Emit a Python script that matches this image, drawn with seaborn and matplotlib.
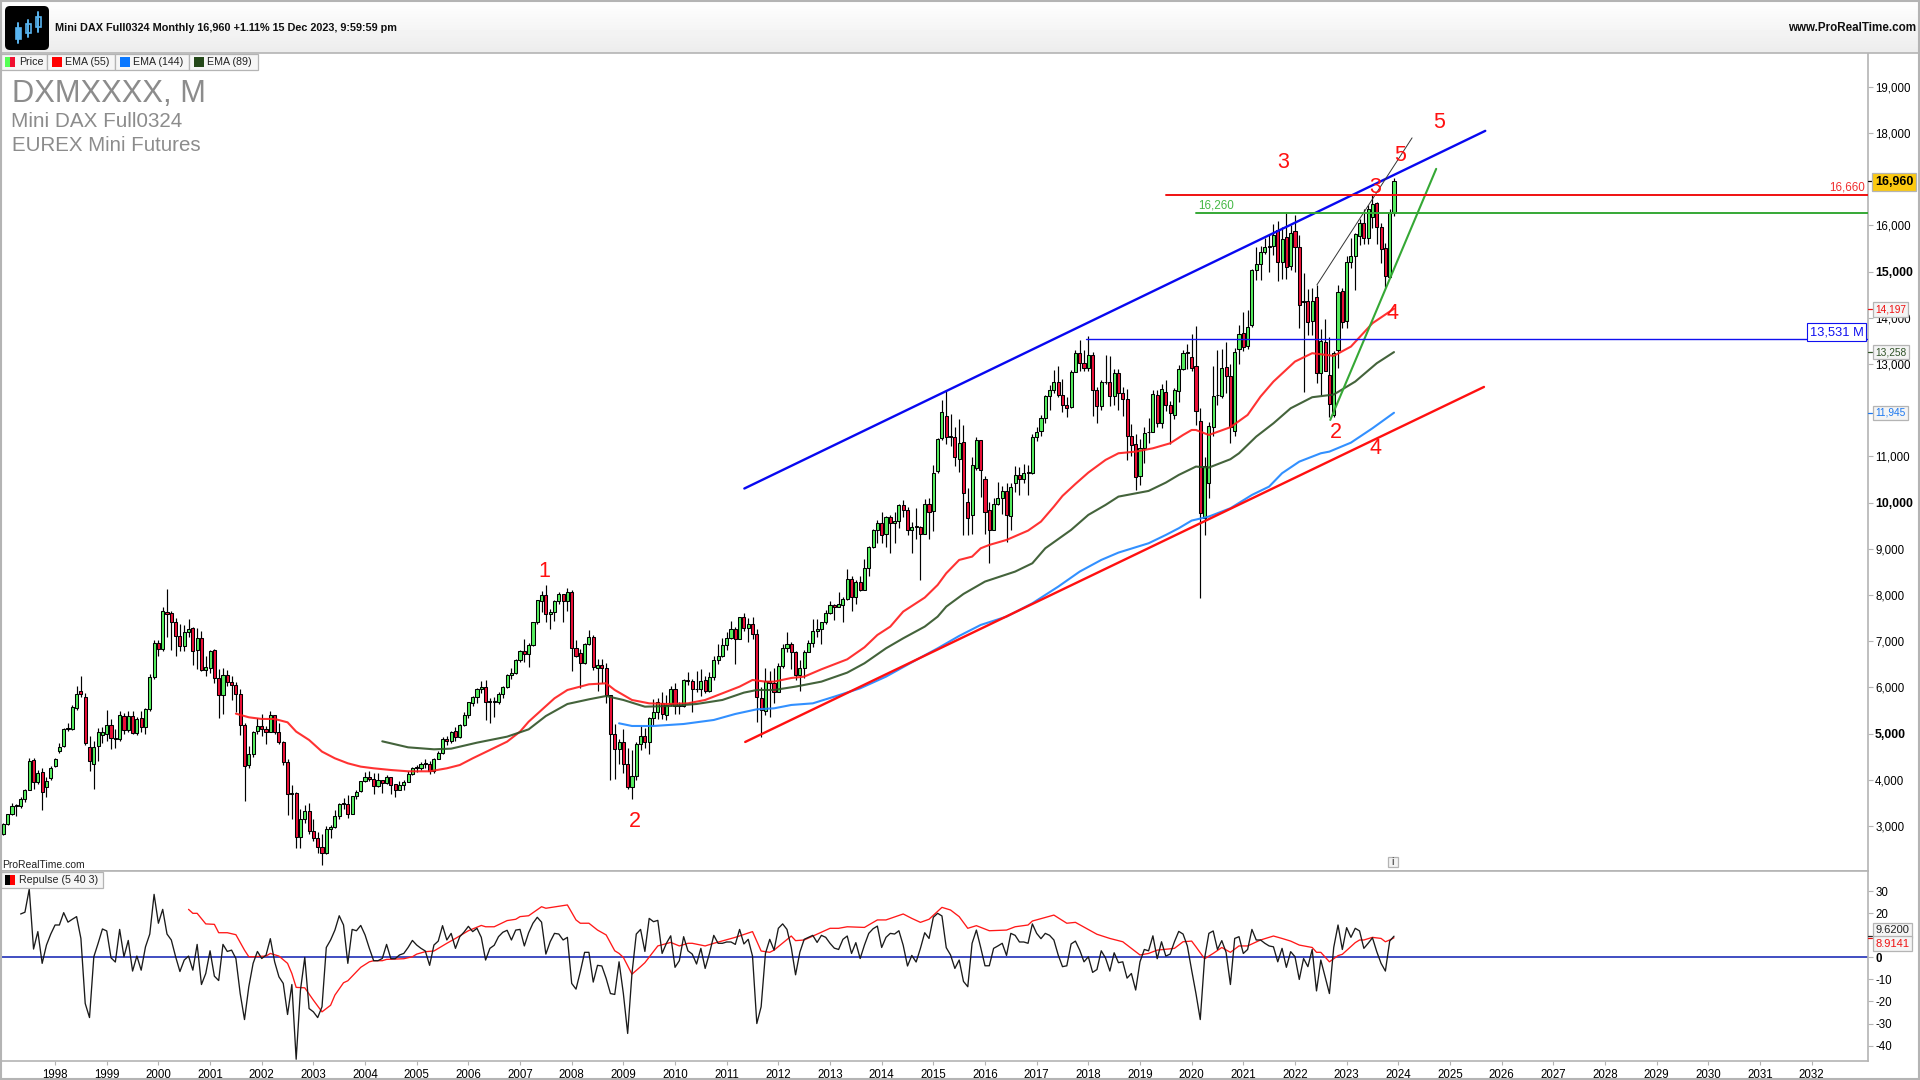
import numpy as np
import pandas as pd
import matplotlib.pyplot as plt
import seaborn as sns
from matplotlib.patches import Rectangle, FancyBboxPatch

# ==========================================
# Monthly candles, Jan 1997 to Dec 2023, one row per year
# ==========================================
opens = [
    2830, 3050, 3250, 3440, 3440, 3590, 3790, 4420, 3950, 4160, 3850, 4030,
    4300, 4620, 4740, 5100, 5110, 5550, 5916, 5793, 4703, 4335, 4739, 4962,
    5000, 5190, 4900, 4880, 5390, 5070, 5380, 5020, 5330, 5150, 5530, 6220,
    6960, 6840, 7640, 7600, 7420, 7110, 6900, 7190, 7280, 6800, 7080, 6370,
    6430, 6800, 6210, 5830, 6260, 6120, 6060, 5860, 5190, 4310, 4560, 5050,
    5160, 5110, 5040, 5400, 5040, 4820, 4380, 3700, 3710, 2770, 3150, 3320,
    2890, 2750, 2550, 2420, 2940, 2980, 3220, 3490, 3480, 3260, 3650, 3750,
    3970, 4060, 4020, 3860, 3990, 3920, 4050, 3900, 3790, 3890, 3960, 4130,
    4260, 4260, 4350, 4350, 4190, 4460, 4590, 4890, 4830, 5050, 4930, 5190,
    5410, 5670, 5800, 5970, 6010, 5690, 5680, 5680, 5860, 6010, 6270, 6310,
    6600, 6790, 6720, 6920, 7410, 7880, 8010, 7590, 7640, 7860, 8020, 7870,
    8070, 6850, 6750, 6530, 6950, 7100, 6420, 6480, 6420, 5830, 4990, 4670,
    4810, 4340, 3840, 4080, 4770, 4940, 4810, 5330, 5460, 5670, 5410, 5630,
    5960, 5610, 5600, 6150, 6140, 5960, 5970, 6150, 5920, 6230, 6600, 6690,
    6920, 7080, 7270, 7040, 7520, 7290, 7380, 7160, 5780, 5500, 6140, 6090,
    5900, 6460, 6860, 6950, 6760, 6260, 6420, 6770, 6970, 7220, 7260, 7410,
    7610, 7780, 7740, 7790, 7910, 8350, 7960, 8280, 8100, 8590, 9030, 9410,
    9550, 9310, 9690, 9560, 9600, 9940, 9830, 9410, 9470, 9470, 9330, 9980,
    9810, 10690, 11400, 11880, 11450, 11410, 10950, 11310, 10007, 9727, 10745, 11350,
    10506, 9830, 9400, 9980, 10100, 10250, 9710, 10420, 10590, 10510, 10660, 10640,
    11430, 11540, 11840, 12310, 12440, 12620, 12330, 12120, 12060, 12830, 13230, 13020,
    12920, 13190, 12440, 12100, 12620, 12610, 12310, 12810, 12370, 12250, 11450, 11260,
    10580, 11180, 11520, 11530, 12340, 11720, 12400, 12114, 11898, 12418, 12887, 13240,
    13160, 12960, 11760, 9670, 10430, 11630, 12320, 12310, 12930, 12750, 11540, 13320,
    13680, 13380, 13850, 15030, 15160, 15420, 15540, 15560, 15890, 15210, 15750, 15130,
    15870, 15540, 14360, 14360, 13930, 14460, 12810, 13470, 12760, 11900, 13310, 14570,
    13930, 15200, 15330, 15780, 16060, 15720, 16190, 16480, 15975, 15520, 14890, 16260,
]
highs = [
    3070, 3270, 3500, 3480, 3620, 3800, 4480, 4470, 4220, 4250, 4060, 4290,
    4480, 4800, 5130, 5220, 5620, 6020, 6250, 5880, 4950, 4830, 5120, 5150,
    5510, 5320, 5110, 5500, 5440, 5480, 5500, 5370, 5480, 5560, 6300, 7020,
    7030, 7740, 8124, 7660, 7500, 7370, 7350, 7490, 7300, 7280, 7220, 6680,
    6820, 6830, 6400, 6420, 6370, 6250, 6110, 5970, 5230, 4730, 5060, 5330,
    5420, 5160, 5480, 5410, 5230, 4840, 4460, 3880, 3730, 3360, 3460, 3490,
    3160, 2870, 2820, 3000, 3030, 3340, 3500, 3600, 3680, 3660, 3790, 3970,
    4160, 4180, 4150, 4150, 4000, 4110, 4060, 3870, 3980, 3990, 4180, 4280,
    4320, 4380, 4440, 4410, 4480, 4620, 4920, 4950, 5060, 5140, 5210, 5470,
    5690, 5810, 5990, 6140, 6160, 5760, 5790, 5890, 6030, 6280, 6420, 6620,
    6820, 7040, 6960, 7410, 7900, 8090, 8217, 7700, 7890, 8060, 8010, 8160,
    8100, 7030, 6830, 6960, 7250, 7130, 6620, 6620, 6520, 5840, 5200, 4890,
    5110, 4680, 4650, 4810, 5170, 5120, 5350, 5750, 5780, 5890, 5840, 6030,
    6090, 5680, 6190, 6340, 6190, 6350, 6390, 6240, 6340, 6670, 6930, 7080,
    7190, 7440, 7310, 7530, 7600, 7500, 7520, 7260, 6000, 6430, 6350, 6430,
    6530, 6950, 7190, 6980, 6780, 6600, 6800, 7030, 7480, 7480, 7420, 7680,
    7870, 7800, 8070, 7950, 8560, 8420, 8330, 8420, 8770, 9060, 9420, 9630,
    9800, 9700, 9740, 9790, 9970, 10050, 9900, 9590, 9890, 9490, 10080, 10090,
    10810, 11400, 12219, 12439, 11920, 11640, 11800, 11670, 10320, 10990, 11430, 11300,
    10570, 10010, 10100, 10440, 10350, 10420, 10420, 10800, 10770, 10830, 10820, 11480,
    11640, 11890, 12320, 12540, 12880, 12950, 12680, 12290, 12880, 13300, 13530, 13300,
    13600, 13270, 12500, 12660, 13200, 13170, 12890, 12890, 12500, 12460, 11700, 11480,
    11370, 11640, 11830, 12440, 12440, 12560, 12660, 12200, 12490, 12970, 13310, 13430,
    13640, 13825, 12040, 10990, 11740, 12950, 13300, 13330, 13470, 13000, 13350, 13850,
    14130, 14170, 15060, 15530, 15560, 15730, 15820, 16030, 16100, 15960, 16300, 16010,
    16228, 15800, 14970, 14620, 14640, 14712, 13760, 13970, 13594, 13290, 14700, 14655,
    15340, 15720, 15830, 16130, 16360, 16440, 16660, 16500, 16050, 15630, 16350, 17030,
]
lows = [
    2810, 3030, 3230, 3220, 3400, 3530, 3770, 3800, 3900, 3340, 3635, 4000,
    4280, 4590, 4720, 5050, 5070, 5520, 5800, 4750, 4200, 3794, 4414, 4800,
    4850, 4670, 4680, 4850, 5000, 5030, 4990, 4980, 5030, 4990, 5480, 6180,
    6670, 6790, 7100, 6800, 6680, 6780, 6780, 7100, 6490, 6390, 6360, 6250,
    6320, 6100, 5346, 5420, 6020, 5720, 5460, 4980, 3549, 4250, 4490, 4990,
    4950, 4780, 5040, 4990, 4780, 4320, 3238, 3160, 2517, 2520, 3060, 2820,
    2670, 2420, 2156, 2400, 2740, 2950, 3160, 3370, 3170, 3250, 3590, 3740,
    3960, 3970, 3690, 3850, 3710, 3900, 3700, 3620, 3800, 3790, 3950, 4110,
    4170, 4220, 4260, 4130, 4140, 4440, 4550, 4750, 4790, 4840, 4900, 5170,
    5330, 5590, 5670, 5870, 5290, 5240, 5360, 5630, 5770, 5990, 6180, 6280,
    6560, 6560, 6440, 6890, 7380, 7630, 7410, 7260, 7430, 7800, 7420, 7650,
    6363, 6660, 5980, 6500, 6920, 6380, 5930, 6090, 5660, 4000, 4010, 4340,
    4150, 3810, 3590, 4000, 4640, 4680, 4550, 5190, 5320, 5320, 5300, 5590,
    5430, 5430, 5580, 6050, 5460, 5900, 5810, 5880, 5900, 6170, 6500, 6650,
    6800, 7040, 6500, 7040, 7220, 6980, 7040, 5260, 4933, 5400, 5370, 5670,
    5900, 6410, 6760, 6400, 6150, 5920, 6200, 6760, 6870, 7100, 6950, 7380,
    7580, 7460, 7770, 7420, 7900, 7650, 7800, 8080, 8100, 8420, 9010, 9130,
    9120, 9040, 8900, 9130, 9440, 9690, 9300, 8900, 9220, 8326, 9310, 9220,
    9380, 10650, 11360, 11270, 11220, 10800, 10670, 9300, 9300, 9330, 10700, 10120,
    9310, 8687, 9400, 9950, 9750, 9156, 9410, 10230, 10170, 10430, 10170, 10620,
    11340, 11440, 11720, 12010, 12380, 12280, 11970, 11860, 12040, 12830, 12840, 12850,
    12850, 11870, 11730, 12010, 12570, 12100, 12110, 12000, 11870, 10930, 11010, 10280,
    10390, 10860, 11300, 11520, 11640, 11620, 11980, 11270, 11810, 12180, 12860, 12890,
    12850, 11682, 7944, 9300, 10100, 11450, 12120, 12260, 12370, 11299, 11450, 13000,
    13290, 13320, 13800, 14820, 14810, 15380, 15000, 15370, 14800, 14840, 14830, 15030,
    15000, 13775, 12403, 13630, 13630, 12584, 12331, 12900, 11862, 11862, 12923, 13770,
    13780, 15070, 14604, 15570, 15600, 15600, 15950, 15600, 15180, 14676, 14860, 16200,
]
closes = [
    3050, 3250, 3430, 3440, 3590, 3780, 4400, 3950, 4155, 3729, 3970, 4255,
    4443, 4710, 5096, 5107, 5568, 5858, 5866, 4804, 4414, 4703, 5028, 5043,
    5184, 4898, 4884, 5393, 5069, 5378, 5020, 5326, 5150, 5525, 6220, 6958,
    6835, 7644, 7599, 7414, 7109, 6898, 7190, 7274, 6798, 7077, 6372, 6434,
    6795, 6208, 5829, 6264, 6123, 6058, 5861, 5188, 4308, 4559, 5045, 5160,
    5107, 5039, 5397, 5041, 4818, 4383, 3700, 3712, 2769, 3152, 3320, 2893,
    2747, 2547, 2424, 2942, 2983, 3221, 3487, 3485, 3257, 3655, 3746, 3965,
    4059, 4018, 3856, 3985, 3921, 4052, 3895, 3785, 3892, 3960, 4126, 4256,
    4254, 4350, 4349, 4185, 4461, 4586, 4887, 4830, 5044, 4929, 5193, 5408,
    5674, 5796, 5970, 6009, 5692, 5683, 5681, 5859, 6004, 6268, 6309, 6596,
    6789, 6715, 6917, 7408, 7883, 8007, 7584, 7638, 7861, 8019, 7870, 8067,
    6851, 6680, 6535, 6948, 7099, 6435, 6479, 6422, 5831, 4988, 4669, 4810,
    4338, 3843, 4085, 4769, 4941, 4808, 5332, 5465, 5675, 5414, 5625, 5957,
    5608, 5598, 6153, 6136, 5964, 5966, 6148, 5925, 6229, 6601, 6688, 6914,
    7077, 7272, 7041, 7514, 7293, 7376, 7158, 5784, 5502, 6141, 6088, 5898,
    6458, 6856, 6946, 6761, 6264, 6416, 6772, 6970, 7216, 7260, 7405, 7612,
    7776, 7742, 7795, 7914, 8348, 7959, 8276, 8103, 8594, 9033, 9405, 9552,
    9306, 9692, 9555, 9603, 9943, 9833, 9407, 9470, 9474, 9326, 9980, 9805,
    10636, 11372, 11956, 11415, 11413, 10996, 11298, 10203, 9662, 10809, 11357, 10707,
    9805, 9409, 9964, 10094, 10253, 9727, 10332, 10592, 10511, 10650, 10640, 11429,
    11535, 11826, 12312, 12438, 12615, 12325, 12118, 12055, 12828, 13229, 13023, 12917,
    13189, 12435, 12096, 12612, 12604, 12306, 12805, 12364, 12247, 11447, 11257, 10558,
    11173, 11515, 11526, 12344, 11726, 12461, 12114, 11934, 12428, 12887, 13240, 13249,
    12908, 11977, 9770, 10801, 11668, 12317, 12320, 12923, 12750, 11646, 13269, 13646,
    13364, 13797, 15037, 15160, 15420, 15542, 15560, 15795, 15204, 15702, 15096, 15832,
    15529, 14273, 14351, 13911, 14373, 12801, 13507, 12844, 12136, 13248, 14567, 13919,
    15218, 15347, 15810, 16062, 15720, 16350, 16470, 15975, 15492, 14908, 16264, 16960,
]

# EMA lines, x in months since Jan 1997
ema55_x = [54, 57, 60, 63, 66, 68, 71, 74, 77, 80, 83, 86, 90, 94, 99, 103, 106, 109, 113, 117,
           120, 122, 125, 128, 131, 136, 140, 142, 146, 150, 154, 159, 163, 167, 171, 174, 177, 179, 183, 186,
           190, 196, 200, 203, 206, 209, 214, 217, 219, 222, 225, 227, 229, 233, 238, 241, 244, 246, 249, 252,
           256, 259, 263, 267, 271, 274, 276, 277, 280, 285, 289, 292, 295, 300, 304, 309, 313, 318, 323]
ema55_y = [5432, 5353, 5317, 5317, 5244, 5043, 4862, 4610, 4465, 4357, 4285, 4249, 4212, 4184, 4184, 4249, 4320, 4465, 4645, 4826,
           5043, 5258, 5511, 5764, 5944, 6067, 6089, 5944, 5728, 5655, 5641, 5655, 5728, 5872, 6017, 6161, 6125, 6125, 6204, 6233,
           6392, 6608, 6868, 7135, 7316, 7641, 7944, 8218, 8471, 8759, 8831, 9011, 9084, 9192, 9394, 9589, 9914, 10145, 10404, 10650,
           10924, 11068, 11104, 11176, 11284, 11464, 11572, 11572, 11464, 11632, 11898, 12295, 12620, 13053, 13234, 13176, 13378, 13883, 14197]
ema89_x = [88, 94, 100, 104, 110, 117, 122, 126, 131, 136, 140, 144, 149, 155, 161, 167, 172, 175, 179, 184,
           190, 196, 200, 205, 209, 214, 217, 219, 223, 228, 235, 239, 242, 248, 252, 256, 259, 266, 270, 273,
           277, 280, 285, 287, 291, 295, 299, 304, 309, 314, 319, 323]
ema89_y = [4833, 4703, 4660, 4674, 4804, 4934, 5092, 5381, 5641, 5742, 5814, 5728, 5583, 5598, 5641, 5728, 5887, 5944, 5944, 6017,
           6125, 6320, 6522, 6846, 7063, 7316, 7532, 7749, 8023, 8291, 8507, 8687, 9011, 9409, 9734, 9950, 10130, 10253, 10433, 10599,
           10780, 10758, 10939, 11068, 11429, 11717, 12042, 12281, 12339, 12620, 13017, 13258]
ema144_x = [143, 146, 151, 158, 165, 170, 175, 179, 183, 188, 193, 199, 205, 212, 217, 222, 227, 233, 239, 245,
            250, 255, 259, 266, 270, 273, 276, 280, 285, 290, 294, 297, 301, 306, 308, 313, 318, 323]
ema144_y = [5223, 5165, 5165, 5208, 5295, 5425, 5526, 5547, 5620, 5655, 5800, 5980, 6233, 6594, 6846, 7114, 7352, 7532, 7821, 8181,
            8507, 8759, 8918, 9120, 9300, 9445, 9611, 9698, 9878, 10166, 10347, 10636, 10887, 11068, 11104, 11298, 11609, 11945]

# Repulse, starts at month 4
repulse = [
    19.7, 20.5, 31, 3.8, 11.7, -2.7, 5.6, 10.6, 14.7, 14.7, 20.3, 16, 17.3, 18.5, 8.6, -20.9, -27.3, 0.3, 6.4, 12.9,
    12, -0.2, -2.1, 12.7, 0.3, 7.7, -6.2, 0.6, -5.8, 4.8, 10.6, 28.6, 15.5, 21.8, 10.6, 7.9, 0.3, -6.4, -1.2, 0.6,
    -5.8, 5.9, -12.3, -7.3, 3, -8.5, -10.5, 5.9, 2.7, 3.3, -0.5, -16.4, -28.2, -13.3, -2.7, 2.7, -0.5, 1, 8.5, -2,
    -8.8, -11.8, -25.9, -12.3, -46.2, -14.8, 0, -23.2, -24.7, -27.3, -22.4, 4.5, 7.9, 12.4, 18.9, 14.7, -2.7, 12.7, 12.1, 14.5,
    10.2, 4.1, -1.5, -1.5, -0.5, 5.9, -0.6, -0.6, 1.1, 1.8, 4.5, 7.7, 5.6, 4.1, 2.9, -3.6, 5.6, 7.4, 14.4, 7.9,
    10.9, 4.1, 9.4, 11.5, 14.1, 11.7, 13.2, 9.1, -1.2, 4.1, 5.5, 9.4, 11.4, 12.3, 7.9, 12.4, 12.7, 5.2, 11.2, 15.5,
    18.2, 16, 1.5, 7.1, 10.9, 10.6, 7.9, 9.1, -11.8, -14.4, -6.5, 2.3, 2.3, -11.2, -3.6, -3.9, -9.5, -16.4, -16.8, -2,
    -16.4, -34.5, -7.3, 10.6, 12.7, 2.7, 17.7, 16.2, 16.8, 1.8, 6.4, 9.8, -4.5, -1.5, 9.4, 3, 1.5, -3, 4.1, -5,
    1.8, 10, 6.4, 6.4, 7, 7, 5.9, 12.7, 6.1, 8.2, 0.6, -30, -22.4, 1.8, 8.2, 3.3, 13.2, 15.2, 12.7, 4.5,
    -7.9, 2.4, 8.2, 9.1, 10, 6.8, 10, 9.1, 6.4, 4.2, 3.6, 8.2, 9.7, 1.8, 6.7, -0.5, 5.6, 10.9, 13, 14.2,
    4.5, 9.1, 10.9, 10.6, 12.1, 5.5, -3.9, 0.9, -2.1, 4.1, 11.2, 8.6, 18.2, 20, 18.8, 4.4, 1.1, -5, -1.2, -10.9,
    -13.3, 6.4, 12.4, 4.5, -3.8, -3.8, 4.1, 5.2, 6.4, 0.9, 10.9, 10, 7, 7, 6.4, 15.2, 10.9, 8.5, 10.9, 10,
    7.9, 1.1, -4.2, -3.8, 6.1, 7.4, 3.3, -2, 0.3, -6.8, -5.5, 3, -0.3, -6.2, 2.1, -2.4, -2, -9.4, -7.3, -14.8,
    -2, 3.6, 3, 9.8, -0.6, 7.1, 0.6, 1.5, 7.1, 11.8, 10.6, 5.2, -5.8, -16.4, -28.2, -0.5, 10.9, 12, 3.6, 7.6,
    2.3, -12.3, 8.6, 9.4, 1.8, 3.6, 12.7, 7.9, 7.9, 6.4, 5.2, 4.8, -2, 4.1, -4.5, 2.6, 0.3, -10, -0.5, -4.2,
    3.6, -15.2, -1.2, -8.8, -16.4, 4.5, 14.7, 3.6, 13.5, 9.1, 13.2, 12, 4.1, 6.4, 8.9, 2.6, -2.7, -6.2, 7.4, 9.62,
]
signal_x = [43, 44, 45, 47, 49, 50, 52, 54, 56, 57, 58, 61, 62, 64, 66, 67, 68, 70, 72, 74,
            76, 77, 79, 80, 83, 85, 86, 88, 89, 93, 95, 96, 98, 100, 103, 105, 108, 111, 112, 114,
            117, 119, 120, 122, 125, 126, 131, 133, 134, 136, 138, 140, 142, 143, 144, 146, 148, 149, 152, 155,
            157, 159, 160, 163, 165, 170, 174, 176, 178, 179, 183, 184, 186, 190, 192, 194, 196, 200, 203, 205,
            209, 211, 213, 215, 218, 220, 222, 224, 226, 229, 233, 235, 238, 239, 244, 247, 249, 254, 257, 260,
            264, 266, 268, 272, 274, 276, 277, 279, 281, 283, 285, 287, 289, 292, 295, 297, 299, 301, 304, 305,
            306, 308, 310, 311, 314, 315, 316, 318, 320, 321, 322, 323]
signal_y = [21.8, 20, 20, 15.2, 15, 11.2, 11.2, 10.3, 3.3, 0.3, 0.3, 0.6, 1.8, 0.6, -2.7, -7.3, -13.6, -13.8, -19.4, -24.7,
            -21.7, -17.1, -11.5, -10.6, -4.5, -2, -1.5, -1.5, -0.9, -0.6, 0.3, 1.5, 2.6, 2.9, 6.4, 8.6, 12.1, 14.5, 13.9, 13.9,
            16.7, 17.3, 18.5, 18.9, 23, 22.3, 23.8, 17, 15.5, 15.5, 12.4, 10.2, 3, 1.8, 0, -7.6, -4.2, -2.4, 5.2, 6.8,
            5.2, 6.4, 6.4, 5.2, 6.4, 9.1, 11.7, 2.9, 2.3, 3.3, 9.7, 7.6, 7.9, 11.4, 13.2, 13.2, 13.9, 13.6, 17, 17,
            19.7, 17.7, 15.9, 17.3, 22.7, 21.5, 18.5, 13.2, 14.4, 12.1, 12.4, 13.9, 14.7, 16.5, 19.2, 15.5, 15.9, 10.5, 8.6, 7.1,
            1.1, 1.8, 3.3, 4.1, 7.1, 7.4, 4.8, -0.6, 1.8, 4.5, 2.3, 5.2, 5.2, 7.9, 9.7, 8.6, 7.4, 5.6, 4.5, 2.3,
            2.3, -2, 0.8, 1.4, 6.7, 7.9, 7.9, 9.1, 8.6, 7.1, 7.9, 8.9]

price_ticks = [3000, 4000, 5000, 6000, 7000, 8000, 9000, 10000, 11000, 13000, 14000, 15000, 16000, 18000, 19000]
bold_prices = [5000, 10000, 15000]
repulse_ticks = [30, 20, 0, -10, -20, -30, -40]
years = list(range(1998, 2033))

# label, month, price
wave_labels = [("1", 125.6, 8510), ("2", 146.7, 3100), ("3", 297.3, 17365), ("5", 333.4, 18230),
               ("5", 324.4, 17515), ("3", 318.6, 16825), ("4", 322.6, 14095), ("2", 309.5, 11520), ("4", 318.6, 11180)]

GREEN = "#55EE5F"
RED = "#EC1038"
GRAY = "#B4B4B4"

sns.set_theme(style="white")
plt.rcParams["font.family"] = ["Liberation Sans", "DejaVu Sans"]

fig = plt.figure(figsize=(19.2, 10.8), dpi=100)
W, H = 1920, 1080


def panel(left, top, right, bottom):
    return fig.add_axes([left / W, 1 - bottom / H, (right - left) / W, (bottom - top) / H])


# ==========================================
# Price panel
# ==========================================
ax = panel(1, 53, 1868, 871)
months = np.arange(len(closes))
xlim = (-0.56, 433.1)

o = np.array(opens)
c = np.array(closes)
up = c >= o
ax.vlines(months, lows, highs, color="black", lw=0.85, zorder=2)
ax.bar(months, np.maximum(np.abs(c - o), 15), bottom=np.minimum(o, c), width=0.72,
       color=[GREEN if u else RED for u in up], edgecolor="black", linewidth=0.75, zorder=3)

for xs, ys, col in [(ema55_x, ema55_y, "#FF1C1C"), (ema144_x, ema144_y, "#1C84FF"), (ema89_x, ema89_y, "#2F5226")]:
    sns.lineplot(data=pd.DataFrame({"m": xs, "v": ys}), x="m", y="v", color=col, lw=1.5, alpha=0.9,
                 estimator=None, sort=False, legend=False, ax=ax, zorder=4)

# drawn trend lines and levels
ax.plot([172.3, 343.9], [4819, 12504], color="#FF1010", lw=1.7, zorder=5)
ax.plot([172.1, 344.2], [10305, 18047], color="#0808F0", lw=1.7, zorder=5)
ax.plot([308.2, 332.8], [11790, 17224], color="#35A835", lw=1.5, zorder=5)
ax.plot([305.1, 327.2], [14713, 17895], color="#333333", lw=0.7, zorder=5)
ax.plot([270, xlim[1]], [16660, 16660], color="#F01010", lw=1.4, zorder=5)
ax.plot([277, xlim[1]], [16260, 16260], color="#35A835", lw=1.4, zorder=5)
ax.plot([251.5, xlim[1]], [13531, 13531], color="#1010F0", lw=1.0, zorder=5)

ax.text(277.5, 16300, "16,260", color="#45B845", fontsize=8.4, va="bottom", ha="left", zorder=6)
ax.text(0.9985, 16700, "16,660", color="#F03030", fontsize=8.4, va="bottom", ha="right",
        transform=ax.get_yaxis_transform(), zorder=6)
ax.text(0.9975, 13560, "13,531 M", color="#1010F0", fontsize=9.3, va="bottom", ha="right",
        transform=ax.get_yaxis_transform(), zorder=6,
        bbox=dict(boxstyle="square,pad=0.22", facecolor="white", edgecolor="#1010F0", lw=0.8))

for txt, m, v in wave_labels:
    ax.text(m, v, txt, color="#FF1010", fontsize=15.5, ha="center", va="center", zorder=7)

ax.set_xlim(xlim)
ax.set_ylim(2026, 19732)
ax.set_xlabel("")
ax.set_ylabel("")
ax.set_xticks([])
ax.yaxis.tick_right()
ax.set_yticks(price_ticks)
ax.set_yticklabels([f"{p:,}" for p in price_ticks], fontsize=8.3)
for lab, p in zip(ax.get_yticklabels(), price_ticks):
    if p in bold_prices:
        lab.set_fontweight("bold")
        lab.set_fontsize(8.8)
ax.tick_params(axis="y", length=3.6, width=0.8, color=GRAY, pad=1.5, labelcolor="black", right=True)
for name, sp in ax.spines.items():
    sp.set_visible(name in ("right", "bottom"))
    sp.set_color(GRAY)
    sp.set_linewidth(1.2)


def tag(axis, value, text, color, face="#F4F4F4", weight="normal", size=7.3, dy=0):
    axis.annotate(text, xy=(1, value), xycoords=axis.get_yaxis_transform(), xytext=(5.2, dy),
                  textcoords="offset points", color=color, fontsize=size, fontweight=weight,
                  va="center", ha="left", zorder=9, annotation_clip=False,
                  bbox=dict(boxstyle="square,pad=0.22", facecolor=face, edgecolor=GRAY, lw=0.9))
    axis.plot([1, 1.0022], [value, value], color=color, lw=0.9, clip_on=False,
              transform=axis.get_yaxis_transform(), zorder=8)


tag(ax, 16960, "16,960", "black", face="#FCC910", weight="bold", size=9, dy=-0.7)
tag(ax, 14197, "14,197", "#F01010", dy=-0.7)
tag(ax, 13258, "13,258", "#2F5226")
tag(ax, 11945, "11,945", "#1C78F0")

# ==========================================
# Repulse panel
# ==========================================
ax2 = panel(1, 871, 1868, 1061)
rep_df = pd.DataFrame({"m": np.arange(4, 4 + len(repulse)), "v": repulse})
sig_df = pd.DataFrame({"m": signal_x, "v": signal_y})
ax2.axhline(0, color="#2030B8", lw=1.2, zorder=1)
sns.lineplot(data=rep_df, x="m", y="v", color="#1A1A1A", lw=0.95, estimator=None, sort=False, legend=False, ax=ax2, zorder=3)
sns.lineplot(data=sig_df, x="m", y="v", color="#FF1818", lw=0.95, estimator=None, sort=False, legend=False, ax=ax2, zorder=2)
ax2.set_xlim(xlim)
ax2.set_ylim(-47, 39.2)
ax2.set_xlabel("")
ax2.set_ylabel("")
ax2.yaxis.tick_right()
ax2.set_yticks(repulse_ticks)
ax2.set_yticklabels([str(t) for t in repulse_ticks], fontsize=8.3)
for lab, t in zip(ax2.get_yticklabels(), repulse_ticks):
    if t == 0:
        lab.set_fontweight("bold")
ax2.set_xticks([(y - 1997) * 12 for y in years])
ax2.set_xticklabels([str(y) for y in years], fontsize=8.3)
ax2.tick_params(axis="y", length=3.6, width=0.8, color=GRAY, pad=1.5, labelcolor="black", right=True)
ax2.tick_params(axis="x", length=3, width=0.8, color=GRAY, pad=2.5, labelcolor="black", bottom=True)
for name, sp in ax2.spines.items():
    sp.set_visible(name in ("right", "bottom"))
    sp.set_color(GRAY)
    sp.set_linewidth(1.2)
tag(ax2, 9.62, "9.6200", "#222222", size=8, dy=4.3)
tag(ax2, 8.9141, "8.9141", "#F01010", size=8, dy=-4.3)

# ==========================================
# Window chrome: header bar, legends, watermark
# ==========================================
ui = fig.add_axes([0, 0, 1, 1], zorder=10)
ui.patch.set_alpha(0)
ui.axis("off")
ui.imshow(np.linspace(1.0, 0.925, 53).reshape(-1, 1), cmap="gray", vmin=0, vmax=1, aspect="auto", extent=(0, W, 53, 0))
ui.set_xlim(0, W)
ui.set_ylim(H, 0)

ui.plot([0, W], [53, 53], color=GRAY, lw=1.2)
ui.plot([0, W], [1, 1], color=GRAY, lw=1.5)
ui.plot([1, 1], [0, H], color=GRAY, lw=1.5)
ui.plot([W - 1, W - 1], [0, H], color=GRAY, lw=1.5)
ui.plot([0, W], [H - 1, H - 1], color=GRAY, lw=1.5)
ui.plot([0, 1868], [871, 871], color=GRAY, lw=1.2)

ui.add_patch(FancyBboxPatch((8, 9), 38, 38, boxstyle="round,pad=3,rounding_size=5", facecolor="black", edgecolor="none"))
for cx, wt, wb, bt, bb, filled in [(18, 23, 43, 28, 39, True), (28, 20, 37, 24, 33, False), (38, 12, 32, 17, 27, False)]:
    ui.plot([cx, cx], [wt, wb], color="#58B4F0", lw=1.4)
    ui.add_patch(Rectangle((cx - 2.5, bt), 5, bb - bt, facecolor="#58B4F0" if filled else "black", edgecolor="#58B4F0", lw=1.2))

ui.text(55, 28, "Mini DAX Full0324 Monthly 16,960 +1.11% 15 Dec 2023, 9:59:59 pm", fontsize=7.85, fontweight="bold",
        color="#101010", va="center", ha="left")
ui.text(1916, 28, "www.ProRealTime.com", fontsize=8.4, fontweight="bold", color="#101010", va="center", ha="right")

for x0, x1, label, col in [(1, 47, "Price", None), (47, 115, "EMA (55)", "#FF0000"),
                           (115, 189, "EMA (144)", "#0A78FF"), (189, 258, "EMA (89)", "#25491A")]:
    ui.add_patch(Rectangle((x0, 54), x1 - x0, 16, facecolor="#F6F6F6", edgecolor=GRAY, lw=0.9))
    if col is None:
        ui.add_patch(Rectangle((x0 + 4, 57), 5, 10, facecolor="#55FF55", edgecolor="none"))
        ui.add_patch(Rectangle((x0 + 9, 57), 5, 10, facecolor="#F01030", edgecolor="none"))
    else:
        ui.add_patch(Rectangle((x0 + 5, 57), 10, 10, facecolor=col, edgecolor="none"))
    ui.text(x0 + 18, 62, label, fontsize=7.7, color="#222222", va="center", ha="left")

ui.text(12, 102, "DXMXXXX, M", fontsize=22.2, color="#8C8C8C", va="baseline", ha="left")
ui.text(11, 127, "Mini DAX Full0324", fontsize=14.9, color="#8C8C8C", va="baseline", ha="left")
ui.text(12, 151, "EUREX Mini Futures", fontsize=14.8, color="#8C8C8C", va="baseline", ha="left")

ui.text(2, 865, "ProRealTime.com", fontsize=7.5, color="#222222", va="center", ha="left")
ui.add_patch(Rectangle((1388, 857), 10, 10, facecolor="#F4F4F4", edgecolor=GRAY, lw=0.9))
ui.text(1393, 862, "i", fontsize=7, fontweight="bold", color="#666666", va="center", ha="center")

ui.add_patch(Rectangle((1, 872), 102, 16, facecolor="#F6F6F6", edgecolor=GRAY, lw=0.9))
ui.add_patch(Rectangle((5, 875), 5, 10, facecolor="black", edgecolor="none"))
ui.add_patch(Rectangle((10, 875), 5, 10, facecolor="#FF0000", edgecolor="none"))
ui.text(19, 880, "Repulse (5 40 3)", fontsize=7.7, color="#222222", va="center", ha="left")

fig.savefig("out.png", dpi=100)
